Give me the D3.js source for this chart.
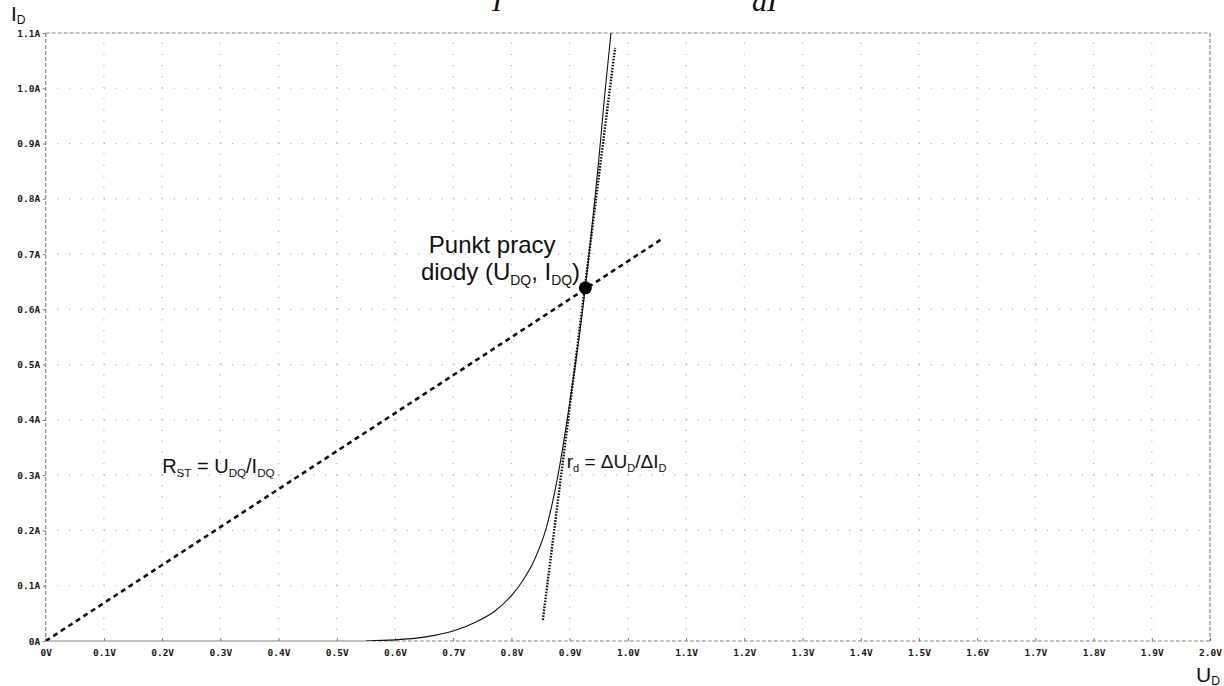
<!DOCTYPE html>
<html>
<head>
<meta charset="utf-8">
<script src="https://cdn.jsdelivr.net/npm/d3@7"></script>
<style>
  html, body { margin: 0; padding: 0; background: #fff; }
  svg { display: block; }
  .tick text { font-family: "DejaVu Sans Mono", monospace; font-weight: bold; font-size: 9.5px; fill: #1a1a1a; }
  .tick line { stroke: #777; }
  .lbl { font-family: "Liberation Sans", Arial, sans-serif; fill: #111; }
</style>
</head>
<body>
<div class="chart-container"></div>
<script>
// Data
const xTicks = [0, 0.1, 0.2, 0.3, 0.4, 0.5, 0.6, 0.7, 0.8, 0.9, 1.0, 1.1, 1.2, 1.3, 1.4, 1.5, 1.6, 1.7, 1.8, 1.9, 2.0];
const xTickLabels = ["0V","0.1V","0.2V","0.3V","0.4V","0.5V","0.6V","0.7V","0.8V","0.9V","1.0V","1.1V","1.2V","1.3V","1.4V","1.5V","1.6V","1.7V","1.8V","1.9V","2.0V"];
const yTicks = [0, 0.1, 0.2, 0.3, 0.4, 0.5, 0.6, 0.7, 0.8, 0.9, 1.0, 1.1];
const yTickLabels = ["0A","0.1A","0.2A","0.3A","0.4A","0.5A","0.6A","0.7A","0.8A","0.9A","1.0A","1.1A"];
// diode curve I(U)
const curveU = [0.55, 0.60, 0.65, 0.70, 0.74, 0.77, 0.80, 0.82, 0.84, 0.86, 0.88, 0.90, 0.92, 0.94, 0.95, 0.96, 0.971];
const curveI = [0, 0.002, 0.007, 0.018, 0.035, 0.053, 0.082, 0.11, 0.148, 0.205, 0.30, 0.43, 0.58, 0.765, 0.87, 0.985, 1.1];
// static resistance line (origin through Q)
const secantU = [0, 1.061];
const secantI = [0, 0.729];
// tangent at Q
const tangentU = [0.854, 0.978];
const tangentI = [0.038, 1.073];
// operating point
const qU = 0.927, qI = 0.639;

const width = 1224, height = 686;
const margin = { top: 33, right: 14, bottom: 45, left: 45.7 };

const svg = d3.select('.chart-container').append('svg')
  .attr("width", width).attr("height", height);

const x = d3.scaleLinear().domain([0, 2]).range([margin.left, width - margin.right]);
const y = d3.scaleLinear().domain([0, 1.1]).range([height - margin.bottom, margin.top]);

// Dotted grid: 5 dots per division
const gxStep = (x(0.1) - x(0)) / 5;
const gyStep = (y(0) - y(0.1)) / 5;
const grid = svg.append("g").attr("id", "grid");
grid.selectAll(".vgrid")
  .data(xTicks.slice(1, -1))
  .enter().append("line")
  .attr("x1", d => x(d)).attr("x2", d => x(d))
  .attr("y1", y(0) - gyStep).attr("y2", y(1.1))
  .attr("stroke", "#b5b5b5").attr("stroke-width", 1.2)
  .attr("stroke-dasharray", `1.2,${gyStep - 1.2}`);
grid.selectAll(".hgrid")
  .data(yTicks.slice(1, -1))
  .enter().append("line")
  .attr("y1", d => y(d)).attr("y2", d => y(d))
  .attr("x1", x(0) + gxStep).attr("x2", x(2))
  .attr("stroke", "#b5b5b5").attr("stroke-width", 1.2)
  .attr("stroke-dasharray", `1.2,${gxStep - 1.2}`);

// Frame (dashed)
const frame = svg.append("g").attr("id", "frame");
function frameLine(x1, y1, x2, y2, dash) {
  frame.append("line")
    .attr("x1", x1).attr("y1", y1).attr("x2", x2).attr("y2", y2)
    .attr("stroke", "#888").attr("stroke-width", 1.2)
    .attr("stroke-dasharray", dash);
}
frameLine(x(0), y(1.1), x(2), y(1.1), "4,2");
frameLine(x(2), y(1.1), x(2), y(0), "4,2");
frameLine(x(0), y(1.1), x(0), y(0), "4,2");
frameLine(x(curveU[0]), y(0), x(2), y(0), "4,2");
// zero-current part of the trace along the axis
frameLine(x(0), y(0), x(curveU[0]), y(0), null);

// Axes
svg.append("g")
  .attr("transform", `translate(0,${y(0)})`)
  .call(d3.axisBottom(x).tickValues(xTicks).tickFormat((d, i) => xTickLabels[i])
    .tickSize(-3).tickPadding(8))
  .call(g => g.select(".domain").remove());
svg.append("g")
  .attr("transform", `translate(${x(0)},0)`)
  .call(d3.axisLeft(y).tickValues(yTicks).tickFormat((d, i) => yTickLabels[i])
    .tickSize(3).tickPadding(2.5))
  .call(g => g.select(".domain").remove());

// Plot clip
svg.append("clipPath").attr("id", "plot-clip")
  .append("rect")
  .attr("x", x(0)).attr("y", y(1.1))
  .attr("width", x(2) - x(0)).attr("height", y(0) - y(1.1));

const plot = svg.append("g").attr("clip-path", "url(#plot-clip)");

// Secant (dashed)
plot.append("line")
  .attr("x1", x(secantU[0])).attr("y1", y(secantI[0]))
  .attr("x2", x(secantU[1])).attr("y2", y(secantI[1]))
  .attr("stroke", "#111").attr("stroke-width", 2.6)
  .attr("stroke-dasharray", "5,4");

// Tangent (dotted)
plot.append("line")
  .attr("x1", x(tangentU[0])).attr("y1", y(tangentI[0]))
  .attr("x2", x(tangentU[1])).attr("y2", y(tangentI[1]))
  .attr("stroke", "#111").attr("stroke-width", 2.4)
  .attr("stroke-dasharray", "1.6,1.4");

// Diode curve
const line = d3.line()
  .x((d, i) => x(curveU[i]))
  .y((d, i) => y(curveI[i]))
  .curve(d3.curveMonotoneX);
plot.append("path")
  .datum(curveU)
  .attr("d", line)
  .attr("fill", "none")
  .attr("stroke", "#111")
  .attr("stroke-width", 1.1);

// Operating point
svg.append("circle")
  .attr("cx", x(qU)).attr("cy", y(qI)).attr("r", 6.5)
  .attr("fill", "#000");

// Labels with subscripts
function label(px, py, size, parts, anchor, shift) {
  const s = shift !== undefined ? shift : size * 0.22;
  const t = svg.append("text").attr("class", "lbl")
    .attr("x", px).attr("y", py)
    .attr("font-size", size)
    .attr("text-anchor", anchor || "start");
  let offset = 0;
  parts.forEach(p => {
    const target = p.sub ? s : 0;
    const ts = t.append("tspan").attr("dy", target - offset);
    offset = target;
    if (p.sub) ts.attr("font-size", size * 0.58).text(p.sub);
    else ts.text(p.t);
  });
  return t;
}

label(x(0.767), y(0.702), 24, [{t: "Punkt pracy"}], "middle");
label(x(0.6445), y(0.653), 24, [{t: "diody (U"}, {sub: "DQ"}, {t: ", I"}, {sub: "DQ"}, {t: ")"}]);
label(x(0.2), y(0.304), 20, [{t: "R"}, {sub: "ST"}, {t: " = U"}, {sub: "DQ"}, {t: "/I"}, {sub: "DQ"}]);
label(x(0.895), y(0.313), 19, [{t: "r"}, {sub: "d"}, {t: " = \u0394U"}, {sub: "D"}, {t: "/\u0394I"}, {sub: "D"}]);

// Axis titles
label(11, 21, 21, [{t: "I"}, {sub: "D"}], "start", 3);
label(1196, 682, 21, [{t: "U"}, {sub: "D"}], "start", 2.5);

// Fragments of a formula cut off at the top edge
svg.append("text").attr("x", 492).attr("y", 11)
  .attr("font-family", "Liberation Serif, serif").attr("font-style", "italic")
  .attr("font-size", 30).attr("fill", "#111").text("I");
svg.append("text").attr("x", 752).attr("y", 11)
  .attr("font-family", "Liberation Serif, serif").attr("font-style", "italic")
  .attr("font-size", 30).attr("fill", "#111").text("dI");
</script>
</body>
</html>
